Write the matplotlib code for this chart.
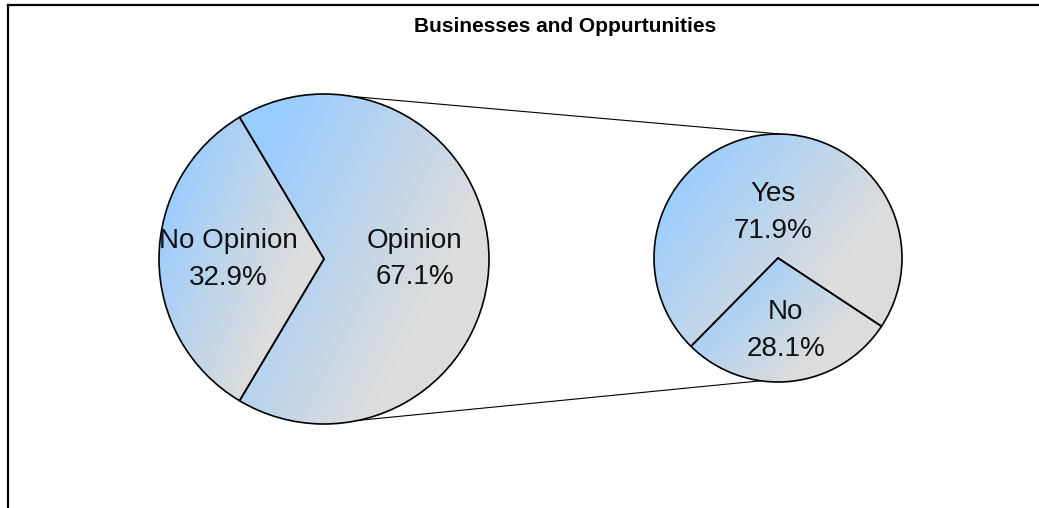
import numpy as np
import matplotlib.pyplot as plt
from matplotlib.colors import LinearSegmentedColormap

plt.rcParams['font.family'] = ['Liberation Sans', 'DejaVu Sans']

title = 'Businesses and Oppurtunities'

# main pie
main_labels = ['Opinion', 'No Opinion']
main_values = [67.1, 32.9]

# second pie (breakdown of "Opinion")
sub_labels = ['Yes', 'No']
sub_values = [71.9, 28.1]

W, H = 1039, 508
fig = plt.figure(figsize=(W / 100, H / 100), dpi=100)
ax = fig.add_axes([0, 0, 1, 1])

cmap = LinearSegmentedColormap.from_list(
    'grad', [(0, '#99ccff'), (0.12, '#99ccff'), (0.7, '#dcdcdc'), (1, '#dddddd')])


def fill_gradient(wedge):
    # diagonal gradient, top-left blue to bottom-right gray, clipped to the wedge
    bb = wedge.get_path().get_extents(wedge.get_patch_transform())
    x0, y0, x1, y1 = bb.x0, bb.y0, bb.x1, bb.y1
    u = np.linspace(0, 1, 200)
    uu, vv = np.meshgrid(u, u)
    t = 0.6 * uu + 0.4 * (1 - vv)
    im = ax.imshow(t, cmap=cmap, vmin=0, vmax=1, extent=[x0, x1, y0, y1],
                   origin='lower', interpolation='bilinear', zorder=1)
    im.set_clip_path(wedge)


# left pie, combined slice pointing to the right
c1, r1 = (324, H - 259), 165
start1 = -main_values[0] * 3.6 / 2
w1, _ = ax.pie(main_values, center=c1, radius=r1, startangle=start1,
               counterclock=True,
               wedgeprops=dict(facecolor='none', edgecolor='black', linewidth=1.2, zorder=2))

# right pie
c2, r2 = (778, H - 258), 124
start2 = 276 + sub_values[1] * 3.6 / 2
w2, _ = ax.pie(sub_values, center=c2, radius=r2, startangle=start2,
               counterclock=True,
               wedgeprops=dict(facecolor='none', edgecolor='black', linewidth=1.2, zorder=2))

for w in list(w1) + list(w2):
    fill_gradient(w)


def put_label(wedge, center, radius, frac, name, val):
    ang = np.deg2rad((wedge.theta1 + wedge.theta2) / 2)
    x = center[0] + frac * radius * np.cos(ang)
    y = center[1] + frac * radius * np.sin(ang)
    ax.text(x, y, f'{name}\n{val:.1f}%', ha='center', va='center', fontsize=20,
            linespacing=1.55, color='#111111', zorder=3)


put_label(w1[0], c1, r1, 0.55, main_labels[0], main_values[0])
put_label(w1[1], c1, r1, 0.58, main_labels[1], main_values[1])
put_label(w2[0], c2, r2, 0.37, sub_labels[0], sub_values[0])
put_label(w2[1], c2, r2, 0.59, sub_labels[1], sub_values[1])

# connector lines between the pies
for a1, a2 in [(80, 89), (-78, 262)]:
    p1 = (c1[0] + r1 * np.cos(np.deg2rad(a1)), c1[1] + r1 * np.sin(np.deg2rad(a1)))
    p2 = (c2[0] + r2 * np.cos(np.deg2rad(a2)), c2[1] + r2 * np.sin(np.deg2rad(a2)))
    ax.plot([p1[0], p2[0]], [p1[1], p2[1]], color='black', linewidth=0.8, zorder=0)

ax.text(565, H - 32, title, ha='center', va='baseline', fontsize=15,
        fontweight='bold', color='black')

# chart area border (top and left edges visible)
ax.plot([8, W + 10], [H - 4.5, H - 4.5], color='black', linewidth=1.6)
ax.plot([8, 8], [H - 4.5, -10], color='black', linewidth=1.6)

ax.set_xlim(0, W)
ax.set_ylim(0, H)
ax.axis('off')

fig.savefig('out.png', dpi=100, facecolor='white')
